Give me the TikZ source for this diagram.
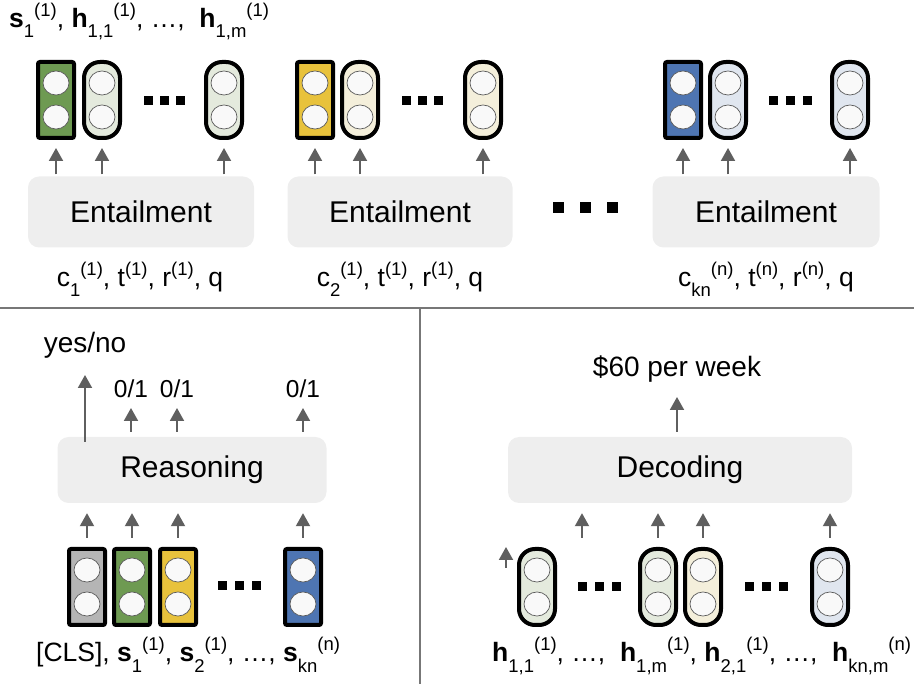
\documentclass[tikz,border=0pt]{standalone}
\usepackage{fontspec}
\setmainfont{Liberation Sans}
\usetikzlibrary{arrows.meta}

\definecolor{cgreen}{HTML}{6E9A52}
\definecolor{cyellow}{HTML}{E8C23C}
\definecolor{cblue}{HTML}{4E75B2}
\definecolor{cgray}{HTML}{B5B5B5}
\definecolor{pgreen}{HTML}{E4EADD}
\definecolor{pyellow}{HTML}{F4EFDB}
\definecolor{pblue}{HTML}{E0E6EF}
\definecolor{boxgray}{HTML}{EEEEEE}
\definecolor{arrgray}{HTML}{5F5F5F}
\definecolor{sepgray}{HTML}{777777}

% sub- and superscripts as set in the figure
\newcommand\subx[1]{\raisebox{-10pt}{\fontsize{18.5}{18.5}\selectfont #1}}
\newcommand\supx[1]{\raisebox{11pt}{\fontsize{18.5}{18.5}\selectfont #1}}
% three small squares
\newcommand\dotrow[4]{\foreach \k in {-1,0,1} \fill ({#1+\k*#4-#3/2},{#2-#3/2}) rectangle ++(#3,#3);}

\tikzset{
  cell/.style={draw=black, line width=4pt, minimum width=36pt, minimum height=76pt, inner sep=0pt,
    path picture={\foreach \dy in {-17,17}
      \draw[draw=black!65, fill=white!95!gray, line width=0.7pt] ([yshift=\dy pt]path picture bounding box.center) ellipse (13pt and 12pt);}},
  rcell/.style={cell, rounded corners=2pt},
  pcell/.style={cell, rounded corners=16pt},
  module/.style={fill=boxgray, rounded corners=11pt, minimum width=#1, minimum height=71pt, inner sep=0pt,
    font=\fontsize{30}{30}\selectfont},
  arr/.style={draw=arrgray, line width=2pt, -{Triangle[width=14pt,length=13pt]}},
  lbl/.style={font=\fontsize{26.5}{26.5}\selectfont, inner sep=0pt},
  sep/.style={draw=sepgray, line width=2pt},
}

\begin{document}
\begin{tikzpicture}[x=1pt, y=-1pt]
  \useasboundingbox (0,0) rectangle (914,692);

  % separators
  \draw[sep] (0,308) -- (914,308);
  \draw[sep] (420,308) -- (420,684);

  % ---- entailment, one per passage
  \node[lbl, anchor=base west] (top) at (9,28)
    {\textbf{s}\subx{1}\supx{(1)}, \textbf{h}\subx{1,1}\supx{(1)}, \textellipsis,\ \ \textbf{h}\subx{1,m}\supx{(1)}};

  \node[rcell, fill=cgreen]  (a1) at (56,100) {};
  \node[pcell, fill=pgreen]  (a2) at (102,100) {};
  \node[pcell, fill=pgreen]  (a3) at (224,100) {};
  \dotrow{164}{101}{9}{16}
  \node[module=226pt] (ent1) at (141,212) {Entailment};
  \node[lbl, anchor=base] (in1) at (140,287) {c\subx{1}\supx{(1)}, t\supx{(1)}, r\supx{(1)}, q};

  \node[rcell, fill=cyellow] (b1) at (315,100) {};
  \node[pcell, fill=pyellow] (b2) at (360,100) {};
  \node[pcell, fill=pyellow] (b3) at (483,100) {};
  \dotrow{422}{101}{9}{16}
  \node[module=225pt] (ent2) at (400,212) {Entailment};
  \node[lbl, anchor=base] (in2) at (400,287) {c\subx{2}\supx{(1)}, t\supx{(1)}, r\supx{(1)}, q};

  \dotrow{585}{208}{11}{27}

  \node[rcell, fill=cblue]   (n1) at (683,100) {};
  \node[pcell, fill=pblue]   (n2) at (728,100) {};
  \node[pcell, fill=pblue]   (n3) at (850,100) {};
  \dotrow{790}{101}{9}{17}
  \node[module=227pt] (ent3) at (766,212) {Entailment};
  \node[lbl, anchor=base] (in3) at (766,287) {c\subx{kn}\supx{(n)}, t\supx{(n)}, r\supx{(n)}, q};

  \foreach \c/\e in {a1/ent1,a2/ent1,a3/ent1,b1/ent2,b2/ent2,b3/ent2,n1/ent3,n2/ent3,n3/ent3}
    \draw[arr, shorten <=2pt, shorten >=8pt] (\c |- \e.north) -- (\c.south);

  % ---- reasoning
  \node[rcell, fill=cgray]   (g0) at (87,587) {};
  \node[rcell, fill=cgreen]  (g1) at (132,587) {};
  \node[rcell, fill=cyellow] (g2) at (178,587) {};
  \node[rcell, fill=cblue]   (g3) at (303,587) {};
  \dotrow{239}{586}{9}{17}
  \node[module=269pt, minimum height=66pt] (reas) at (192,470) {Reasoning};
  \node[lbl, anchor=base west] (seq) at (36,662)
    {[CLS], \textbf{s}\subx{1}\supx{(1)}, \textbf{s}\subx{2}\supx{(1)}, \textellipsis, \textbf{s}\subx{kn}\supx{(n)}};

  \node[lbl, anchor=base, font=\fontsize{28}{28}\selectfont] (yn) at (85,353) {yes/no};
  \node[lbl, anchor=base, font=\fontsize{24.5}{24.5}\selectfont] (o1) at (131,398) {0/1};
  \node[lbl, anchor=base, font=\fontsize{24.5}{24.5}\selectfont] (o2) at (177,398) {0/1};
  \node[lbl, anchor=base, font=\fontsize{24.5}{24.5}\selectfont] (o3) at (303,398) {0/1};

  \foreach \c in {g0,g1,g2,g3}
    \draw[arr, shorten <=9pt, shorten >=10pt] (\c.north) -- (\c |- reas.south);
  \foreach \o in {o1,o2,o3}
    \draw[arr, shorten <=5pt, shorten >=10pt] (\o.base |- reas.north) -- (\o.base);
  \draw[arr, shorten <=-5pt, shorten >=22pt] (yn.base |- reas.north) -- (yn.base);

  % ---- decoding
  \node[pcell, fill=pgreen]  (h1) at (537,587) {};
  \node[pcell, fill=pgreen]  (h2) at (658,587) {};
  \node[pcell, fill=pyellow] (h3) at (703,587) {};
  \node[pcell, fill=pblue]   (h4) at (830,587) {};
  \dotrow{599}{587}{9}{17}
  \dotrow{766}{587}{9}{17}
  \node[module=344pt, minimum height=66pt] (dec) at (680,470) {Decoding};
  \node[lbl, anchor=base west] (hseq) at (492,662)
    {\textbf{h}\subx{1,1}\supx{(1)}, \textellipsis,\ \ \textbf{h}\subx{1,m}\supx{(1)}, \textbf{h}\subx{2,1}\supx{(1)}, \textellipsis,\ \ \textbf{h}\subx{kn,m}\supx{(n)}};
  \node[lbl, anchor=base, font=\fontsize{28}{28}\selectfont] (ans) at (677,377) {\$60 per week};

  \coordinate (hgap) at (582,547);
  \coordinate (s0) at (506,568);
  \coordinate (s1) at (506,547);
  \foreach \c in {hgap,h2.north,h3.north,h4.north}
    \draw[arr, shorten <=9pt, shorten >=10pt] (\c) -- (\c |- dec.south);
  \draw[arr] (s0) -- (s1);
  \draw[arr, shorten <=5pt, shorten >=20pt] (ans.base |- dec.north) -- (ans.base);
\end{tikzpicture}
\end{document}
